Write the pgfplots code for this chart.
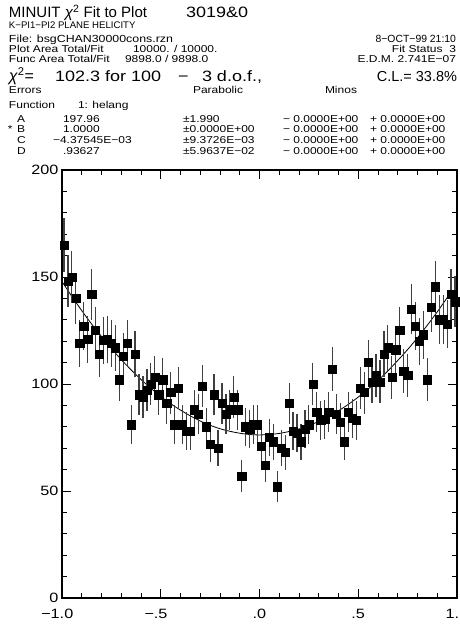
\documentclass[border=0pt]{standalone}
\usepackage{pgfplots}
\pgfplotsset{compat=1.18}
\usepackage{pgfplotstable}
\usepackage{fontspec}
\setmainfont{Liberation Sans}
\newfontfamily\hf{Liberation Sans}[FakeStretch=1.2]
\newfontfamily\hn{Liberation Sans}
\newcommand\fs[1]{\fontsize{#1}{#1}\hf}
\newcommand\fn[1]{\fontsize{#1}{#1}\hn}

\pgfplotstableread{
x y e
-0.99 165 12.8
-0.97 148 12.2
-0.95 150 12.2
-0.93 140 11.8
-0.91 119 10.9
-0.89 127 11.3
-0.87 121 11.0
-0.85 142 11.9
-0.83 125 11.2
-0.81 114 10.7
-0.79 120.5 11.0
-0.77 121 11.0
-0.75 119 10.9
-0.73 117 10.8
-0.71 102 10.1
-0.69 113 10.6
-0.67 119 10.9
-0.65 81 9.0
-0.63 114 10.7
-0.61 95 9.7
-0.59 94 9.7
-0.57 97 9.8
-0.55 100 10.0
-0.53 103 10.1
-0.51 95 9.7
-0.49 102 10.1
-0.47 91 9.5
-0.45 96 9.8
-0.43 81 9.0
-0.41 98 9.9
-0.39 81 9.0
-0.37 78 8.8
-0.35 78 8.8
-0.33 88 9.4
-0.31 86 9.3
-0.29 99 9.9
-0.27 80 8.9
-0.25 72 8.5
-0.23 95 9.7
-0.21 70 8.4
-0.19 91 9.5
-0.17 86 9.3
-0.15 88 9.4
-0.13 94 9.7
-0.11 88 9.4
-0.09 57 7.5
-0.07 80 8.9
-0.05 79 8.9
-0.03 81 9.0
-0.01 81 9.0
0.01 71 8.4
0.03 62 7.9
0.05 75 8.7
0.07 73 8.5
0.09 52 7.2
0.11 70 8.4
0.13 68 8.2
0.15 91 9.5
0.17 78 8.8
0.19 77 8.8
0.21 73 8.5
0.23 79 8.9
0.25 81 9.0
0.27 100 10.0
0.29 87 9.3
0.31 83 9.1
0.33 83.5 9.1
0.35 87 9.3
0.37 107 10.3
0.39 86 9.3
0.41 82 9.1
0.43 73 8.5
0.45 87 9.3
0.47 84 9.2
0.49 83 9.1
0.51 98 9.9
0.53 96 9.8
0.55 110 10.5
0.57 101 10.0
0.59 104 10.2
0.61 101 10.0
0.63 114 10.7
0.65 117 10.8
0.67 103 10.1
0.69 116 10.8
0.71 125 11.2
0.73 106 10.3
0.75 104 10.2
0.77 135 11.6
0.79 127 11.3
0.81 120 11.0
0.83 123 11.1
0.85 102 10.1
0.87 136 11.7
0.89 145.5 12.1
0.91 130 11.4
0.93 130 11.4
0.95 128 11.3
0.97 142 11.9
0.99 138.5 11.8
}\datatab

\pgfplotstableread{
x y
-1.00 147.9
-0.95 140.9
-0.90 134.3
-0.85 128.0
-0.80 122.2
-0.75 116.6
-0.70 111.4
-0.65 106.6
-0.60 102.1
-0.55 98.0
-0.50 94.2
-0.45 90.8
-0.40 87.8
-0.35 85.1
-0.30 82.7
-0.25 80.7
-0.20 79.1
-0.15 77.9
-0.10 77.0
-0.05 76.4
0.00 76.2
0.05 76.4
0.10 76.9
0.15 77.8
0.20 79.0
0.25 80.6
0.30 82.5
0.35 84.8
0.40 87.5
0.45 90.5
0.50 93.9
0.55 97.6
0.60 101.7
0.65 106.1
0.70 111.0
0.75 116.1
0.80 121.6
0.85 127.5
0.90 133.7
0.95 140.3
0.97 142.8
}\fittab

\begin{document}
\begin{tikzpicture}[x=1pt,y=1pt]
\useasboundingbox (0,0) rectangle (459,630);
\begin{axis}[
  at={(62pt,32pt)}, anchor=south west,
  width=395pt, height=428pt, scale only axis,
  xmin=-1, xmax=1, ymin=0, ymax=200,
  clip=false,
  axis line style={line width=1.2pt},
  tick align=inside,
  every tick/.style={black, line width=0.9pt},
  major tick length=9pt, minor tick length=5pt,
  xtick={-1,-0.5,0,0.5,1},
  xticklabels={\llap{−}1.0,\llap{−}.5,.0,.5,1.\hphantom{0}},
  minor x tick num=4,
  ytick={0,50,100,150,200},
  yticklabels={0,50,100,150,200},
  minor y tick num=4,
  xticklabel style={font=\fs{13.5}, yshift=-8pt},
  yticklabel style={font=\fs{13.5}},
]
\addplot[black, line width=0.8pt, smooth] table[x=x,y=y] {\fittab};
\addplot[only marks, mark=square*, mark size=4.1pt, black,
  error bars/.cd, y dir=both, y explicit,
  error bar style={line width=1.2pt, black!75}, error mark=none]
  table[x=x,y=y,y error=e] {\datatab};
\end{axis}

\tikzset{every node/.style={inner sep=0pt, outer sep=0pt}}
% header
\node[anchor=base west, font=\fn{15}] at (9,612) {MINUIT \textit{χ}\textsuperscript{2} Fit to Plot};
\node[anchor=base west, font=\fs{15}] at (186,612) {3019\&0};
\node[anchor=base west, font=\fn{9.6}] at (9,601) {K−PI1−PI2 PLANE HELICITY};
\node[anchor=base west, font=\fs{10.3}] at (9,587) {File: bsgCHAN30000cons.rzn};
\node[anchor=base east, font=\fn{10.4}] at (456,587) {8−OCT−99 21:10};
\node[anchor=base west, font=\fs{10}] at (9,577) {Plot Area Total/Fit};
\node[anchor=base west, font=\fs{10}] at (133,577) {10000. / 10000.};
\node[anchor=base east, font=\fs{10}] at (456,577) {Fit Status\ \ 3};
\node[anchor=base west, font=\fs{10}] at (9,567) {Func Area Total/Fit};
\node[anchor=base west, font=\fs{10}] at (125,567) {9898.0 / 9898.0};
\node[anchor=base east, font=\fs{10}] at (456,567) {E.D.M. 2.741E−07};
\node[anchor=base west, font=\fn{16}] at (9,548) {\textit{χ}\textsuperscript{2}=};
\node[anchor=base west, font=\fs{15}] at (55,548) {102.3 for 100};
\node[anchor=base west, font=\fs{15}] at (178,548) {−};
\node[anchor=base west, font=\fs{15}] at (202,548) {3 d.o.f.,};
\node[anchor=base east, font=\fn{14.5}] at (457,548) {C.L.= 33.8\%};
\node[anchor=base west, font=\fs{10}] at (9,536) {Errors};
\node[anchor=base west, font=\fs{10}] at (193,536) {Parabolic};
\node[anchor=base west, font=\fs{10}] at (325,536) {Minos};
\node[anchor=base west, font=\fs{10}] at (9,521) {Function};
\node[anchor=base west, font=\fs{10}] at (78,521) {1: helang};
% rows
\node[anchor=base west, font=\fs{10}] at (17,507.5) {A};
\node[anchor=base west, font=\fs{10}] at (63,507.5) {197.96};
\node[anchor=base west, font=\fs{10}] at (183,507.5) {±1.990};
\node[anchor=base west, font=\fs{10}] at (283,507.5) {− 0.0000E+00};
\node[anchor=base west, font=\fs{10}] at (370,507.5) {+ 0.0000E+00};
\node[anchor=base west, font=\fs{10}] at (8,497) {*};
\node[anchor=base west, font=\fs{10}] at (17,497) {B};
\node[anchor=base west, font=\fs{10}] at (63,497) {1.0000};
\node[anchor=base west, font=\fs{10}] at (183,497) {±0.0000E+00};
\node[anchor=base west, font=\fs{10}] at (283,497) {− 0.0000E+00};
\node[anchor=base west, font=\fs{10}] at (370,497) {+ 0.0000E+00};
\node[anchor=base west, font=\fs{10}] at (17,486) {C};
\node[anchor=base west, font=\fs{10}] at (53,486) {−4.37545E−03};
\node[anchor=base west, font=\fs{10}] at (183,486) {±9.3726E−03};
\node[anchor=base west, font=\fs{10}] at (283,486) {− 0.0000E+00};
\node[anchor=base west, font=\fs{10}] at (370,486) {+ 0.0000E+00};
\node[anchor=base west, font=\fs{10}] at (17,475) {D};
\node[anchor=base west, font=\fs{10}] at (63,475) {.93627};
\node[anchor=base west, font=\fs{10}] at (183,475) {±5.9637E−02};
\node[anchor=base west, font=\fs{10}] at (283,475) {− 0.0000E+00};
\node[anchor=base west, font=\fs{10}] at (370,475) {+ 0.0000E+00};
\end{tikzpicture}
\end{document}
